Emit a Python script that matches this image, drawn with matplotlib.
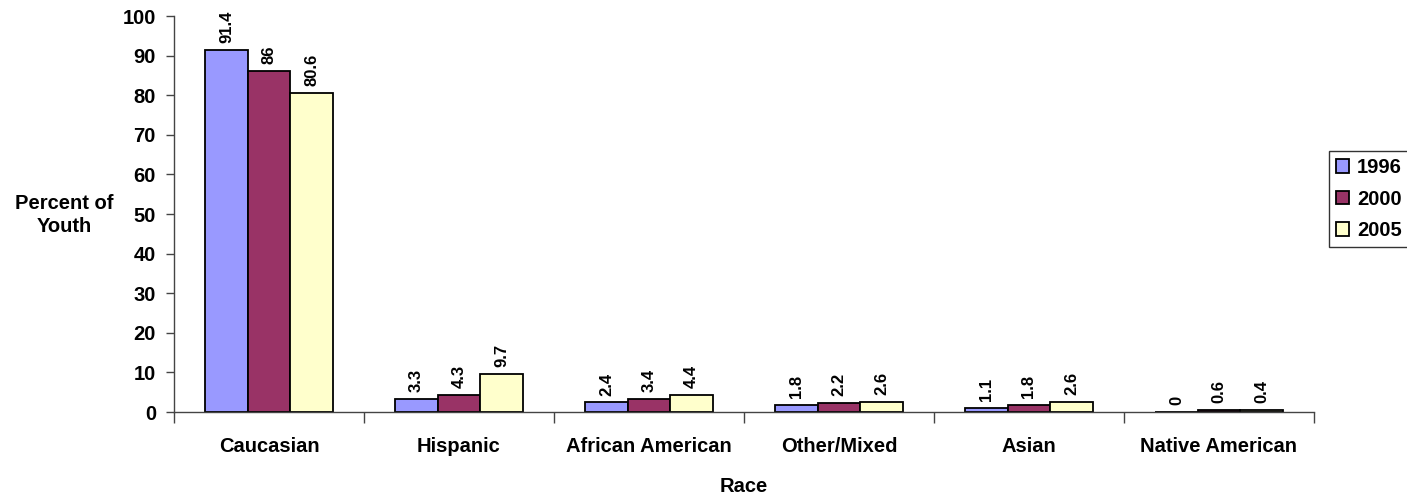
import matplotlib
matplotlib.use("Agg")
import matplotlib.pyplot as plt
import numpy as np

categories = ["Caucasian", "Hispanic", "African American", "Other/Mixed", "Asian", "Native American"]
years = ["1996", "2000", "2005"]
v1996 = [91.4, 3.3, 2.4, 1.8, 1.1, 0]
v2000 = [86, 4.3, 3.4, 2.2, 1.8, 0.6]
v2005 = [80.6, 9.7, 4.4, 2.6, 2.6, 0.4]
labels1996 = ["91.4", "3.3", "2.4", "1.8", "1.1", "0"]
labels2000 = ["86", "4.3", "3.4", "2.2", "1.8", "0.6"]
labels2005 = ["80.6", "9.7", "4.4", "2.6", "2.6", "0.4"]
colors = ["#9999FF", "#993366", "#FFFFCC"]

plt.rcParams['font.family'] = ['Liberation Sans', 'DejaVu Sans']
plt.rcParams['font.weight'] = 'bold'

fig = plt.figure(figsize=(14.07, 5.0), dpi=100)
ax = fig.add_axes([174/1407, 1-412/500, (1314-174)/1407, (412-16)/500])

x = np.arange(len(categories)) + 0.5
w = 0.224
series = [v1996, v2000, v2005]
lbls = [labels1996, labels2000, labels2005]
handles = []
for i, (vals, lab) in enumerate(zip(series, lbls)):
    pos = x + (i - 1) * w
    b = ax.bar(pos, vals, w, color=colors[i], edgecolor='black', linewidth=1.3, label=years[i])
    handles.append(b)
    for p, v, t in zip(pos, vals, lab):
        ax.annotate(t, (p, v), xytext=(0, 5), textcoords='offset points',
                    rotation=90, ha='center', va='bottom', fontsize=12, fontweight='bold')

ax.set_xlim(0, len(categories))
ax.set_ylim(0, 100)
ax.set_yticks(np.arange(0, 101, 10))
ax.tick_params(axis='y', labelsize=14.5, length=6, width=1, color='#444444', pad=7)
ax.set_xticks(x)
ax.set_xticklabels(categories, fontsize=14.5, fontweight='bold')
ax.tick_params(axis='x', which='major', length=0, pad=18)
ax.set_xticks(np.arange(0, len(categories) + 1), minor=True)
ax.tick_params(axis='x', which='minor', length=8, width=1, color='#444444')
for lab in ax.get_yticklabels():
    lab.set_fontweight('bold')
for s in ['top', 'right']:
    ax.spines[s].set_visible(False)
for s in ['left', 'bottom']:
    ax.spines[s].set_color('#444444')
    ax.spines[s].set_linewidth(1)

fig.text((174 + 1314) / 2 / 1407, 1 - 487/500, "Race", ha='center', va='center',
         fontsize=14.5, fontweight='bold')
fig.text(64/1407, 1-215/500, "Percent of\nYouth", ha='center', va='center',
         fontsize=14.5, fontweight='bold', linespacing=1.3)

leg = fig.legend(handles=handles, labels=years, loc='upper left',
                 bbox_to_anchor=(1329/1407, 1-151/500), fontsize=14.5,
                 frameon=True, fancybox=False, edgecolor='black',
                 handlelength=0.65, handleheight=0.65, handletextpad=0.4,
                 borderpad=0.35, labelspacing=0.62, borderaxespad=0)
leg.get_frame().set_linewidth(1)
for t in leg.get_texts():
    t.set_fontweight('bold')

fig.savefig("out.png", dpi=100)
